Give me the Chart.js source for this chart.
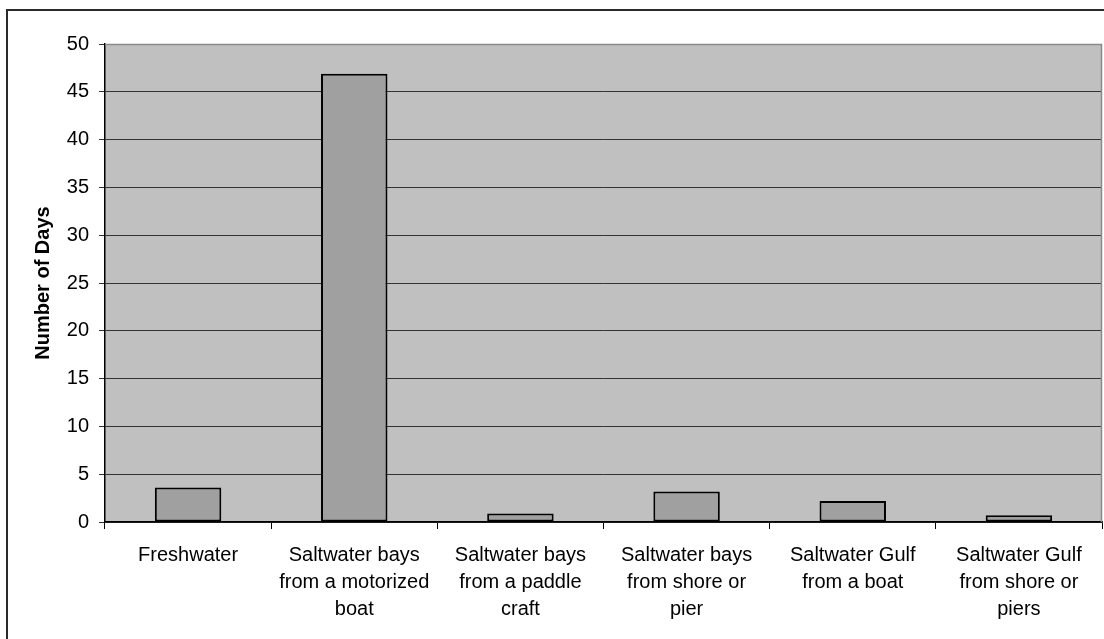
<!DOCTYPE html>
<html>
<head>
<meta charset="utf-8">
<title>Number of Days by Fishing Mode</title>
<script src="https://cdn.jsdelivr.net/npm/chart.js@4.4.1/dist/chart.umd.min.js"></script>
<style>
  html, body { margin: 0; padding: 0; background: #ffffff; }
  #wrap { width: 1104px; height: 639px; position: relative; }
  canvas { display: block; }
</style>
</head>
<body>
<div id="wrap"><canvas id="chart" width="1104" height="639"></canvas></div>
<script>
// Fishing modes along the x axis (each label split into its printed lines)
const categories = [
  ["Freshwater"],
  ["Saltwater bays", "from a motorized", "boat"],
  ["Saltwater bays", "from a paddle", "craft"],
  ["Saltwater bays", "from shore or", "pier"],
  ["Saltwater Gulf", "from a boat"],
  ["Saltwater Gulf", "from shore or", "piers"]
];

// Number of days per fishing mode
const days = [3.6, 46.9, 0.9, 3.2, 2.2, 0.7];

// Value axis range
const yMin = 0;
const yMax = 50;
const yStep = 5;

const FONT = '"Liberation Sans", Arial, Helvetica, sans-serif';

// Outer frame and plot-area background/border
const framePlugin = {
  id: 'frame',
  beforeDraw(chart) {
    const ctx = chart.ctx;
    const a = chart.chartArea;
    ctx.save();
    ctx.fillStyle = '#ffffff';
    ctx.fillRect(0, 0, chart.width, chart.height);
    ctx.strokeStyle = '#2b2b2b';
    ctx.lineWidth = 2;
    ctx.strokeRect(7, 10, chart.width + 20, chart.height + 20);
    ctx.fillStyle = '#c0c0c0';
    ctx.fillRect(a.left, a.top, a.right - a.left, a.bottom - a.top);
    ctx.restore();
  },
  afterDatasetsDraw(chart) {
    const ctx = chart.ctx;
    const a = chart.chartArea;
    ctx.save();
    ctx.strokeStyle = '#8a8a8a';
    ctx.lineWidth = 1.5;
    ctx.beginPath();
    ctx.moveTo(a.left, a.top + 0.5);
    ctx.lineTo(a.right - 0.5, a.top + 0.5);
    ctx.lineTo(a.right - 0.5, a.bottom);
    ctx.stroke();
    ctx.restore();
  }
};

new Chart(document.getElementById('chart'), {
  type: 'bar',
  data: {
    labels: categories,
    datasets: [{
      data: days,
      backgroundColor: '#a0a0a0',
      borderColor: '#000000',
      borderWidth: 2,
      borderSkipped: false,
      categoryPercentage: 1,
      barPercentage: 0.4
    }]
  },
  options: {
    responsive: false,
    animation: false,
    devicePixelRatio: 1,
    layout: { padding: { top: 44, right: 2, left: 0, bottom: 0 } },
    plugins: {
      legend: { display: false },
      tooltip: { enabled: false }
    },
    scales: {
      x: {
        afterFit(scale) { scale.height = 117; },
        grid: {
          offset: true,
          drawOnChartArea: false,
          drawTicks: true,
          tickLength: 7,
          color: '#000000',
          lineWidth: 1
        },
        border: { display: true, color: '#000000', width: 1.5 },
        ticks: {
          color: '#000000',
          padding: 13,
          maxRotation: 0,
          autoSkip: false,
          font: { family: FONT, size: 20, lineHeight: 1.35 }
        }
      },
      y: {
        min: yMin,
        max: yMax,
        afterFit(scale) { scale.width = 105; },
        title: {
          display: true,
          text: 'Number of Days',
          color: '#000000',
          padding: { top: 31, bottom: 0 },
          font: { family: FONT, size: 20, weight: 'bold' }
        },
        grid: {
          color: '#333333',
          lineWidth: 1,
          drawTicks: true,
          tickLength: 6
        },
        border: { display: true, color: '#000000', width: 1.5 },
        ticks: {
          stepSize: yStep,
          color: '#000000',
          padding: 10,
          font: { family: FONT, size: 20 }
        }
      }
    }
  },
  plugins: [framePlugin]
});
</script>
</body>
</html>
